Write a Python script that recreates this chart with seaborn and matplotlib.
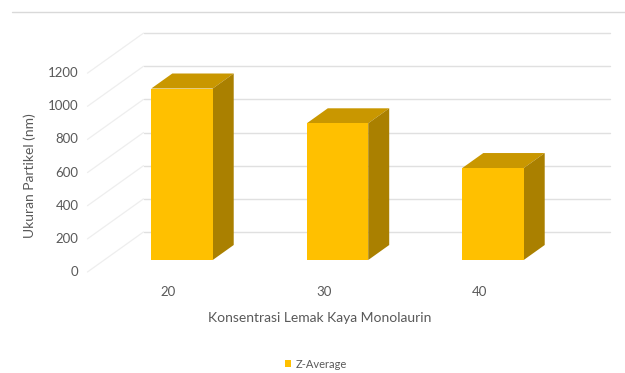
import matplotlib
matplotlib.use("Agg")
import matplotlib.pyplot as plt
from matplotlib.patches import Polygon, Patch
import seaborn as sns
import pandas as pd

# ---- data -------------------------------------------------------------
categories = ["20", "30", "40"]
z_average = [1035, 825, 555]
value_ticks = [0, 200, 400, 600, 800, 1000, 1200]
series_name = "Z-Average"
x_title = "Konsentrasi Lemak Kaya Monolaurin"
y_title = "Ukuran Partikel (nm)"

# ---- styling ----------------------------------------------------------
sns.set_theme(style="white")
plt.rcParams["font.family"] = ["Lato", "DejaVu Sans"]

FRONT = "#FFC000"
TOP = "#C99700"
SIDE = "#AA8000"
GRID = "#E0E0E0"
SIDE_GRID = "#EEEEEE"
TEXT = "#595959"

W, H, DPI = 625, 373, 100

# pixel geometry of the bar (front) plane
PX_PER_CAT = 155.5
CAT0_PX = 182.0
BASE_PX = 260.0
PX_PER_VAL = 0.1657
# one unit of depth (= depth of a bar) moves a point right and up
DEPTH_PX = (21.0, -15.0)
FRONT_DEPTH = -0.8   # front edge of the floor
BACK_DEPTH = 1.87    # back wall
BAR_WIDTH = 0.395

DX = DEPTH_PX[0] / PX_PER_CAT
DY = -DEPTH_PX[1] / PX_PER_VAL


def proj(cat, val, depth):
    return cat + depth * DX, val + depth * DY


df = pd.DataFrame({"konsentrasi": categories, "ukuran": z_average})

fig = plt.figure(figsize=(W / DPI, H / DPI), dpi=DPI)
ax = fig.add_axes([0, 0, 1, 1])

# back wall and left side wall gridlines
x_lo, x_hi = -0.5, len(categories) - 0.5
for v in value_ticks:
    (a, b), (c, d) = proj(x_lo, v, BACK_DEPTH), proj(x_hi, v, BACK_DEPTH)
    ax.plot([a, c], [b, d], color=GRID, lw=1.0, zorder=1)
    (a, b), (c, d) = proj(x_lo, v, FRONT_DEPTH), proj(x_lo, v, BACK_DEPTH)
    ax.plot([a, c], [b, d], color=SIDE_GRID, lw=0.9, zorder=1)

# front faces of the columns
sns.barplot(data=df, x="konsentrasi", y="ukuran", color=FRONT, saturation=1,
            width=BAR_WIDTH, ax=ax, zorder=3, linewidth=0)

# extruded top and side faces built from each drawn bar
for bar in list(ax.patches):
    x0 = bar.get_x()
    x1 = x0 + bar.get_width()
    h = bar.get_height()
    top = [(x0, h), (x1, h), proj(x1, h, 1.0), proj(x0, h, 1.0)]
    side = [(x1, 0), (x1, h), proj(x1, h, 1.0), proj(x1, 0, 1.0)]
    ax.add_patch(Polygon(top, closed=True, facecolor=TOP, edgecolor="none", zorder=2))
    ax.add_patch(Polygon(side, closed=True, facecolor=SIDE, edgecolor="none", zorder=2))

ax.set_xlim((0 - CAT0_PX) / PX_PER_CAT, (W - CAT0_PX) / PX_PER_CAT)
ax.set_ylim((BASE_PX - H) / PX_PER_VAL, BASE_PX / PX_PER_VAL)
ax.set_axis_off()

# value axis labels along the front edge of the side wall
for v in value_ticks:
    ax.annotate(f"{v}", xy=proj(x_lo, v, FRONT_DEPTH), xytext=(-9, 0),
                textcoords="offset pixels", ha="right", va="center",
                fontsize=9.5, color=TEXT)

# category labels along the front edge of the floor
for i, c in enumerate(categories):
    ax.annotate(c, xy=proj(i, 0, FRONT_DEPTH), xytext=(3, -20),
                textcoords="offset pixels", ha="center", va="center",
                fontsize=9.5, color=TEXT)

fig.text(320 / W, 1 - 318 / H, x_title, ha="center", va="center",
         fontsize=10, color=TEXT)
fig.text(30 / W, 1 - 176 / H, y_title, ha="center", va="center",
         rotation=90, fontsize=10, color=TEXT)

fig.legend(handles=[Patch(facecolor=FRONT, edgecolor="none")], labels=[series_name],
           loc="center", bbox_to_anchor=(316 / W, 1 - 364 / H), frameon=False,
           handlelength=0.55, handleheight=0.55, handletextpad=0.4,
           fontsize=8, labelcolor=TEXT)

# chart area top border
fig.add_artist(plt.Line2D([12 / W, 1], [1 - 11.5 / H, 1 - 11.5 / H],
                          color="#D9D9D9", lw=1.0, transform=fig.transFigure))

fig.savefig("out.png", dpi=DPI, facecolor="white")
